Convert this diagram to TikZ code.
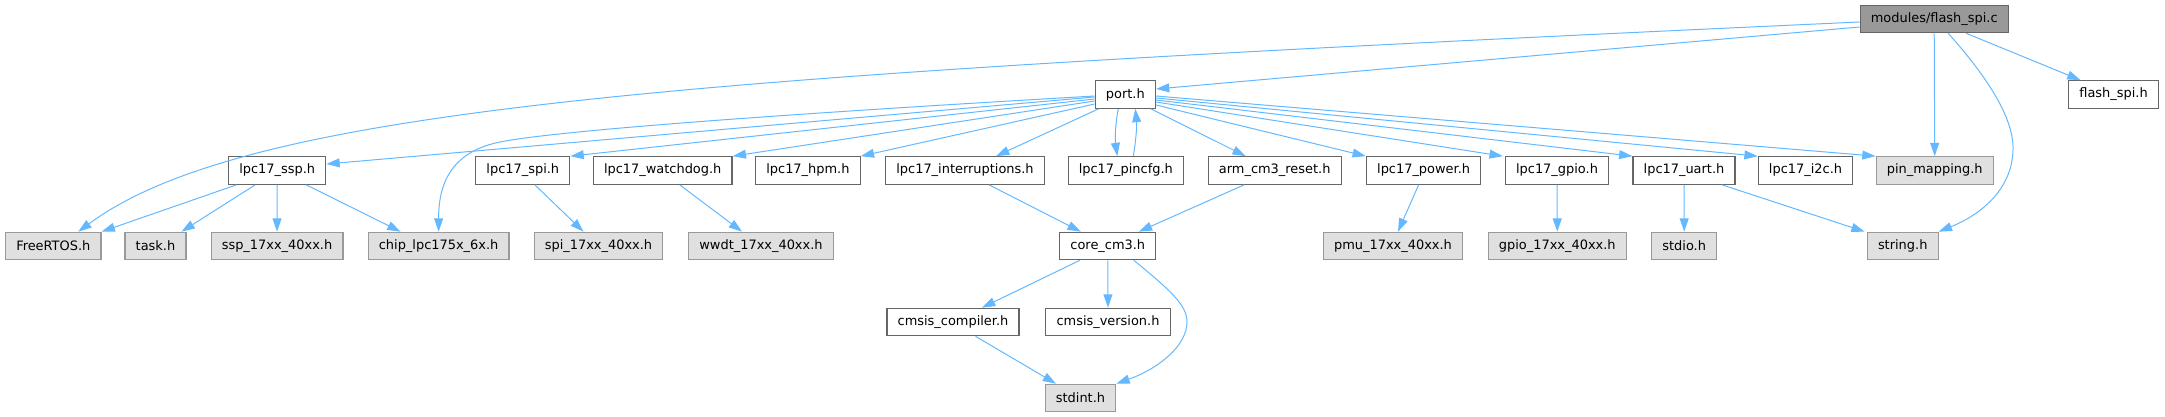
\documentclass[tikz,border=0pt]{standalone}
\usepackage{fontspec}
\setmainfont{DejaVu Sans}
\usetikzlibrary{arrows.meta,calc}

\definecolor{edgeblue}{HTML}{63B8FF}
\definecolor{framegrey}{HTML}{666666}
\definecolor{sysframe}{HTML}{999999}
\definecolor{sysfill}{HTML}{E0E0E0}

\begin{document}
\begin{tikzpicture}[
  x=0.75pt, y=-0.75pt,
  font=\fontsize{9.7}{11.6}\selectfont,
  >={Triangle[length=10pt,width=6.7pt]},
  file/.style={
    draw=framegrey,
    fill=white,
    line width=0.9pt,
    minimum height=20.6pt,
    inner xsep=8pt,
    inner ysep=0pt
  },
  sysfile/.style={
    file,
    draw=sysframe,
    fill=sysfill
  },
  current/.style={
    file,
    fill=sysframe
  },
  dep/.style={->,draw=edgeblue,line width=0.75pt}
]
\useasboundingbox (0,0) rectangle (2165,417);

% top rows
\node[current] (root) at (1934.2,19) {modules/flash\_spi.c};
\node[file] (port) at (1125.3,94.5) {port.h};
\node[file] (flashspih) at (2113.5,94.5) {flash\_spi.h};

% headers included by port.h
\node[file] (ssp) at (277.2,170.5) {lpc17\_ssp.h};
\node[file] (spi) at (522.8,170.5) {lpc17\_spi.h};
\node[file] (wdog) at (662.7,170.5) {lpc17\_watchdog.h};
\node[file] (hpm) at (807.9,170.5) {lpc17\_hpm.h};
\node[file] (intr) at (965,170.5) {lpc17\_interruptions.h};
\node[file] (pincfg) at (1125.8,170.5) {lpc17\_pincfg.h};
\node[file] (armreset) at (1274.7,170.5) {arm\_cm3\_reset.h};
\node[file] (power) at (1423.6,170.5) {lpc17\_power.h};
\node[file] (gpio) at (1557,170.5) {lpc17\_gpio.h};
\node[file] (uart) at (1684,170.5) {lpc17\_uart.h};
\node[file] (itwoc) at (1805.5,170.5) {lpc17\_i2c.h};
\node[sysfile] (pinmap) at (1934.7,170.5) {pin\_mapping.h};

% third row
\node[sysfile] (freertos) at (53.3,246) {FreeRTOS.h};
\node[sysfile] (task) at (155.5,246) {task.h};
\node[sysfile] (sspreg) at (277,246) {ssp\_17xx\_40xx.h};
\node[sysfile] (chip) at (438.6,246) {chip\_lpc175x\_6x.h};
\node[sysfile] (spireg) at (598.5,246) {spi\_17xx\_40xx.h};
\node[sysfile] (wwdt) at (761,246) {wwdt\_17xx\_40xx.h};
\node[file] (core) at (1107.8,246) {core\_cm3.h};
\node[sysfile] (pmu) at (1393,246) {pmu\_17xx\_40xx.h};
\node[sysfile] (gpioreg) at (1557.3,246) {gpio\_17xx\_40xx.h};
\node[sysfile] (stdio) at (1684.2,246) {stdio.h};
\node[sysfile] (string) at (1902.7,246) {string.h};

% cmsis
\node[file] (compiler) at (953,322) {cmsis\_compiler.h};
\node[file] (version) at (1108,322) {cmsis\_version.h};
\node[sysfile] (stdint) at (1080.5,398) {stdint.h};

% edges from the source file
\draw[dep] ($(root.west)+(0,3)$) .. controls (700,75) and (250,105) .. ($(freertos.north)+(25,0)$);
\draw[dep] ($(root.west)+(0,8)$) -- ($(port.east)+(0,-5.5)$);
\draw[dep] (root.south) -- (pinmap.north);
\draw[dep] ($(root.south)+(14,0)$) .. controls (1990,80) and (2014,120) .. (2013,150)
  .. controls (2012,190) and (1980,215) .. (string.north east);
\draw[dep] ($(root.south)+(32,0)$) -- ($(flashspih.north)+(-33,0)$);

% edges from port.h
\draw[dep] ($(port.west)+(0,1.5)$) .. controls (800,113) and (560,130) .. (500,142)
  .. controls (450,152) and (438.6,185) .. (chip.north);
\draw[dep] ($(port.west)+(0,2.5)$) -- ($(ssp.east)+(0,-6.5)$);
\draw[dep] ($(port.west)+(0,4.5)$) -- (spi.north east);
\draw[dep] ($(port.west)+(0,6.5)$) -- (wdog.north east);
\draw[dep] ($(port.west)+(0,9.5)$) -- (hpm.north east);
\draw[dep] ($(port.south west)+(4,0)$) -- ($(intr.north)+(31,0)$);
\draw[dep] ($(port.south)+(-7,0)$) .. controls (1115,125) and (1115,140) .. ($(pincfg.north)+(-8.5,0)$);
\draw[dep] ($(pincfg.north)+(7.5,0)$) .. controls (1136,140) and (1137,125) .. ($(port.south)+(10,0)$);
\draw[dep] ($(port.south east)+(-5,0)$) -- ($(armreset.north)+(-29,0)$);
\draw[dep] ($(port.east)+(0,10.5)$) -- (power.north west);
\draw[dep] ($(port.east)+(0,7.5)$) -- ($(gpio.north west)+(-2,0)$);
\draw[dep] ($(port.east)+(0,5.5)$) -- (uart.north west);
\draw[dep] ($(port.east)+(0,3.5)$) -- (itwoc.north west);
\draw[dep] ($(port.east)+(0,1.5)$) -- (pinmap.north west);

% second level
\draw[dep] ($(ssp.south west)+(8.5,0)$) -- (freertos.north east);
\draw[dep] ($(ssp.south)+(-22,0)$) -- ($(task.north)+(26,0)$);
\draw[dep] (ssp.south) -- (sspreg.north);
\draw[dep] ($(ssp.south)+(29,0)$) -- ($(chip.north)+(-38,0)$);
\draw[dep] ($(spi.south)+(12,0)$) -- ($(spireg.north)+(-15,0)$);
\draw[dep] ($(wdog.south)+(17,0)$) -- ($(wwdt.north)+(-19,0)$);
\draw[dep] ($(intr.south)+(24,0)$) -- ($(core.north)+(-27,0)$);
\draw[dep] ($(armreset.south)+(-30.5,0)$) -- ($(core.north)+(31,0)$);
\draw[dep] ($(power.south)+(-5,0)$) -- ($(pmu.north)+(5,0)$);
\draw[dep] (gpio.south) -- (gpioreg.north);
\draw[dep] (uart.south) -- (stdio.north);
\draw[dep] ($(uart.south)+(38,0)$) -- ($(string.north)+(-38,0)$);

% cmsis level
\draw[dep] ($(core.south)+(-28,0)$) -- ($(compiler.north)+(29,0)$);
\draw[dep] (core.south) -- (version.north);
\draw[dep] ($(core.south)+(26,0)$) .. controls (1170,290) and (1187,305) .. (1187,322)
  .. controls (1187,345) and (1160,368) .. (stdint.north east);
\draw[dep] ($(compiler.south)+(22.5,0)$) -- ($(stdint.north)+(-24.5,0)$);
\end{tikzpicture}
\end{document}
